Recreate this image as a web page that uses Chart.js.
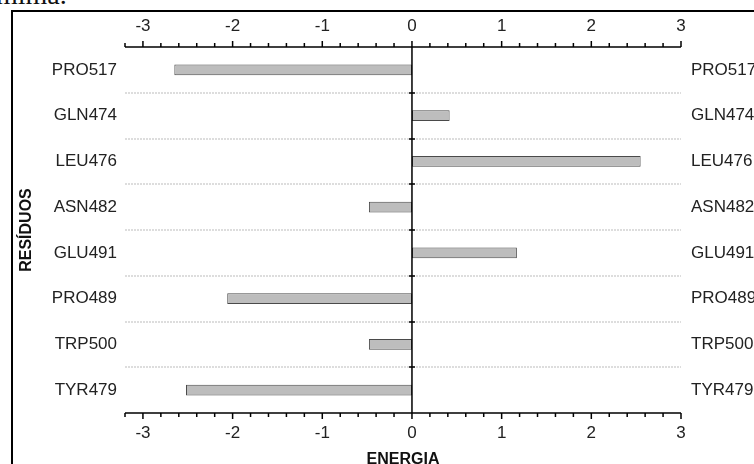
<!DOCTYPE html>
<html lang="pt">
<head>
<meta charset="UTF-8">
<title>Energia por resíduo</title>
<script src="https://cdn.jsdelivr.net/npm/chart.js"></script>
<style>
    html, body { margin: 0; padding: 0; background: #fff; overflow: hidden; width: 754px; height: 464px; }
    .caption { position: absolute; left: -4px; top: -19px; font-family: "Liberation Serif", serif; font-size: 28px; line-height: 1; color: #111; }
    .frame { position: absolute; left: 11px; top: 10px; width: 800px; height: 520px; border: 2px solid #000; }
    #chart { position: absolute; left: 0; top: 0; }
</style>
</head>
<body>
<div class="caption">mima.</div>
<div class="frame"></div>
<canvas id="chart" width="754" height="476"></canvas>

<script>
    const residues = ['PRO517', 'GLN474', 'LEU476', 'ASN482', 'GLU491', 'PRO489', 'TRP500', 'TYR479'];
    const energies = [-2.65, 0.42, 2.55, -0.48, 1.17, -2.06, -0.48, -2.52];
    const energyTicks = [-3, -2, -1, 0, 1, 2, 3];
    const energyMin = -3.2;
    const energyMax = 3;
    const minorStep = 0.2;

    const labelFont = { family: '"Liberation Sans", Arial, sans-serif', size: 17 };
    const titleFont = { family: '"Liberation Sans", Arial, sans-serif', size: 16, weight: 'bold' };
    const textColor = '#222';

    // dotted separators, axis lines with minor/major ticks, and the zero line
    const axisMarks = {
        id: 'axisMarks',
        beforeDatasetsDraw(chart) {
            const { ctx, chartArea: a, scales: { y } } = chart;
            ctx.save();
            ctx.strokeStyle = '#d2d2d2';
            ctx.lineWidth = 1.5;
            ctx.setLineDash([2, 1]);
            for (let i = 0; i < residues.length - 1; i++) {
                const py = Math.round((y.getPixelForValue(i) + y.getPixelForValue(i + 1)) / 2);
                ctx.beginPath();
                ctx.moveTo(a.left, py);
                ctx.lineTo(a.right, py);
                ctx.stroke();
            }
            ctx.restore();
        },
        afterDatasetsDraw(chart) {
            const { ctx, chartArea: a, scales: { x, y } } = chart;
            ctx.save();
            ctx.strokeStyle = '#000';
            ctx.lineWidth = 1.5;
            ctx.beginPath();
            ctx.moveTo(a.left, a.top);
            ctx.lineTo(a.right, a.top);
            ctx.moveTo(a.left, a.bottom);
            ctx.lineTo(a.right, a.bottom);

            const n = Math.round((energyMax - energyMin) / minorStep);
            for (let k = 0; k <= n; k++) {
                const v = energyMin + k * minorStep;
                const len = Math.abs(v - Math.round(v)) < 1e-6 ? 6 : 4;
                const px = x.getPixelForValue(v);
                ctx.moveTo(px, a.top);
                ctx.lineTo(px, a.top - len);
                ctx.moveTo(px, a.bottom);
                ctx.lineTo(px, a.bottom + len);
            }

            const zx = x.getPixelForValue(0);
            ctx.moveTo(zx, a.top);
            ctx.lineTo(zx, a.bottom);
            for (let i = 0; i < residues.length - 1; i++) {
                const py = Math.round((y.getPixelForValue(i) + y.getPixelForValue(i + 1)) / 2);
                ctx.moveTo(zx - 3, py);
                ctx.lineTo(zx + 3, py);
            }
            ctx.stroke();
            ctx.restore();
        }
    };

    const energyAxis = (position, height) => ({
        type: 'linear',
        position: position,
        min: energyMin,
        max: energyMax,
        grid: { display: false, drawTicks: false },
        border: { display: false },
        afterBuildTicks: s => { s.ticks = energyTicks.map(v => ({ value: v })); },
        afterFit: s => { s.height = height; },
        ticks: { padding: 10, font: labelFont, color: textColor }
    });

    const residueAxis = (position, width, pad) => ({
        type: 'category',
        position: position,
        offset: true,
        grid: { display: false, drawTicks: false },
        border: { display: false },
        afterFit: s => { s.width = width; },
        ticks: { padding: pad, font: labelFont, color: textColor }
    });

    const scales = {
        x: energyAxis('bottom', 63),
        x2: energyAxis('top', 47),
        y: residueAxis('left', 125, 8),
        y2: residueAxis('right', 73, 10)
    };
    scales.x.title = { display: true, text: 'ENERGIA', font: titleFont, color: '#111', padding: { top: 0, bottom: 7 } };
    scales.y.title = { display: true, text: 'RESÍDUOS', font: titleFont, color: '#111', padding: { top: 17, bottom: 0 } };

    new Chart(document.getElementById('chart'), {
        type: 'bar',
        data: {
            labels: residues,
            datasets: [{
                label: 'Energia',
                data: energies,
                xAxisID: 'x',
                yAxisID: 'y',
                backgroundColor: '#bdbdbd',
                borderColor: '#4a4a4a',
                borderWidth: 1,
                borderSkipped: false,
                barPercentage: 0.24,
                categoryPercentage: 1
            }]
        },
        options: {
            indexAxis: 'y',
            responsive: false,
            animation: false,
            layout: { padding: 0 },
            scales: scales,
            plugins: {
                legend: { display: false },
                tooltip: { enabled: false }
            }
        },
        plugins: [axisMarks]
    });
</script>
</body>
</html>
